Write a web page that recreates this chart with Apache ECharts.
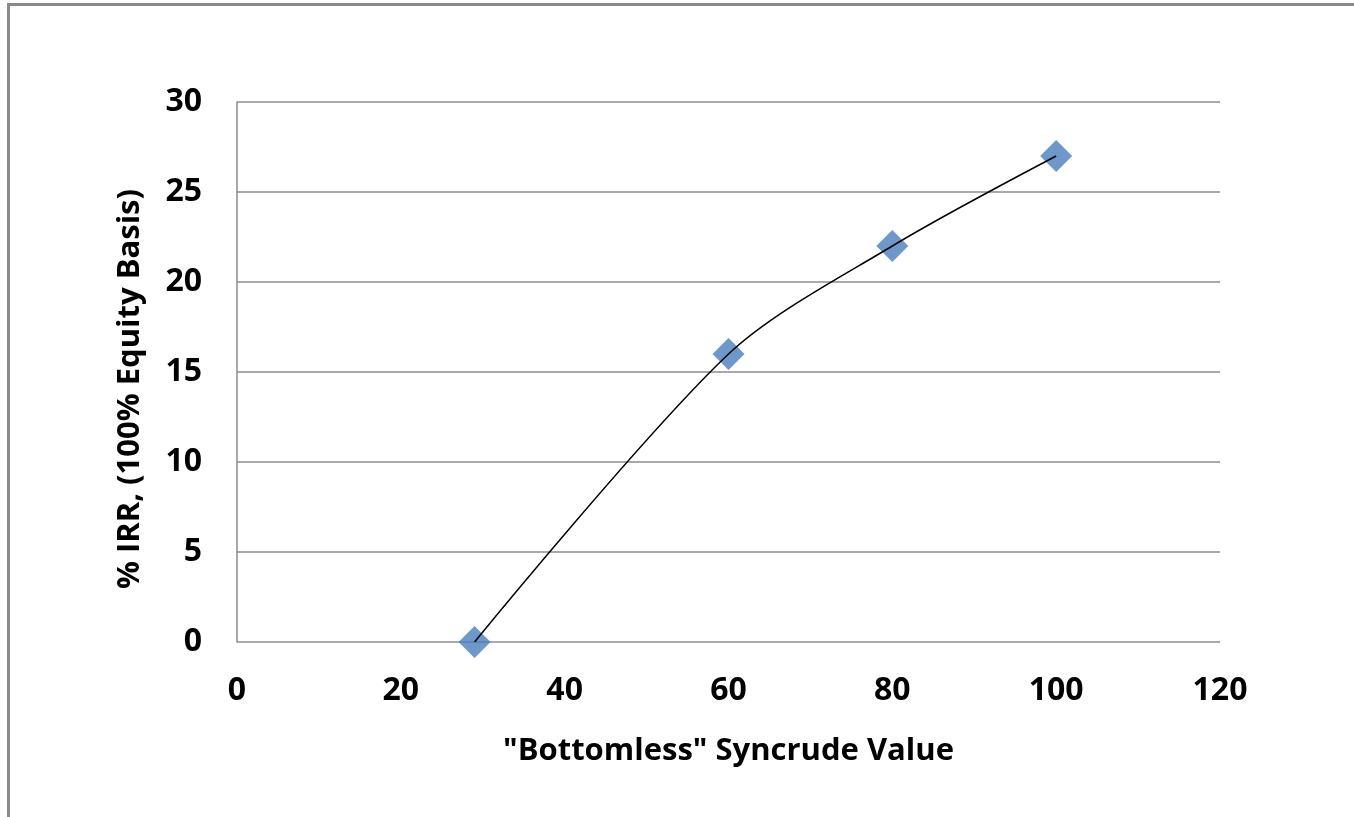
<!DOCTYPE html>
<html>
<head>
<meta charset="utf-8">
<script src="https://cdn.jsdelivr.net/npm/echarts@6/dist/echarts.min.js"></script>
<style>
html,body{margin:0;padding:0;background:#fff;}
#chart{width:1354px;height:817px;}
</style>
</head>
<body>
<div id="chart"></div>
<script>
const syncrudeValue = [29, 60, 80, 100];
const irrPercent = [0, 16, 22, 27];
const xTicks = [0, 20, 40, 60, 80, 100, 120];
const yTicks = [0, 5, 10, 15, 20, 25, 30];
const xName = '"Bottomless" Syncrude Value';
const yName = '% IRR, (100% Equity Basis)';

const pts = syncrudeValue.map((x, i) => [x, irrPercent[i]]);
const font = '"Open Sans", "DejaVu Sans", sans-serif';

const chart = echarts.init(document.getElementById('chart'), null, {renderer: 'canvas'});
chart.setOption({
  animation: false,
  backgroundColor: '#fff',
  graphic: [
    {type: 'line', shape: {x1: 8.5, y1: 4, x2: 8.5, y2: 817}, style: {stroke: '#8a8a8a', lineWidth: 3}},
    {type: 'line', shape: {x1: 7, y1: 4.5, x2: 1354, y2: 4.5}, style: {stroke: '#8a8a8a', lineWidth: 3}}
  ],
  grid: {left: 237, right: 134, top: 102, bottom: 175, containLabel: false},
  xAxis: {
    type: 'value', min: 0, max: 120, interval: 20,
    name: xName, nameLocation: 'middle', nameGap: 94,
    nameTextStyle: {fontFamily: font, fontWeight: 'bold', fontSize: 31, color: '#000'},
    axisLine: {show: false}, axisTick: {show: false},
    axisLabel: {fontFamily: font, fontWeight: 'bold', fontSize: 32, color: '#000', margin: 33},
    splitLine: {show: false}
  },
  yAxis: {
    type: 'value', min: 0, max: 30, interval: 5,
    name: yName, nameLocation: 'middle', nameGap: 91,
    nameTextStyle: {fontFamily: font, fontWeight: 'bold', fontSize: 31, color: '#000', padding: [0, 34, 0, 0]},
    axisLine: {show: true, lineStyle: {color: '#8c8c8c', width: 1.5}}, axisTick: {show: false},
    axisLabel: {fontFamily: font, fontWeight: 'bold', fontSize: 32, color: '#000', margin: 35},
    splitLine: {show: true, lineStyle: {color: '#8c8c8c', width: 1.5}}
  },
  series: [
    {
      type: 'line', data: pts, smooth: 0.3,
      symbol: 'none',
      lineStyle: {color: '#000', width: 1.5},
      z: 3
    },
    {
      type: 'scatter', data: pts, symbol: 'diamond', symbolSize: 32,
      itemStyle: {color: '#4a7ebb'},
      z: 2
    }
  ]
});
</script>
</body>
</html>
